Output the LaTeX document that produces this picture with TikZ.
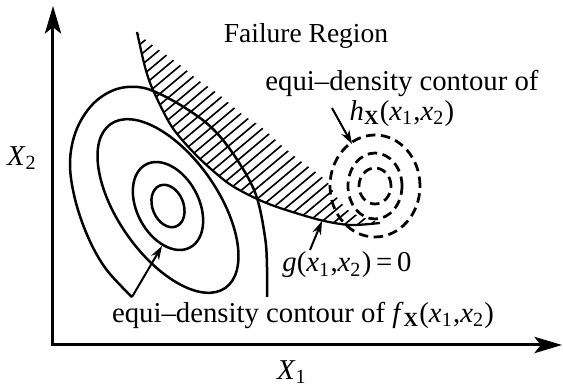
\documentclass[tikz,border=0pt]{standalone}
\usepackage{fontspec}
\setmainfont{Liberation Serif}
\usepackage{tikz}
\usetikzlibrary{arrows.meta,positioning}

\tikzset{
  axis/.style={line width=1.2pt, line join=miter,
    {Stealth[length=11pt,width=6.5pt,inset=2.5pt]}-{Stealth[length=11pt,width=6.5pt,inset=2.5pt]}},
  contour/.style={line width=1pt},
  dashcontour/.style={line width=1.1pt, dash pattern=on 3.8pt off 2.2pt},
  limit/.style={line width=0.9pt},
  hatch/.style={line width=0.65pt},
  pointer/.style={line width=0.8pt, -{Stealth[length=5.5pt,width=3.6pt]}},
}
\newcommand{\xsub}[1]{\textit{x}\textsubscript{#1}}

\begin{document}
\begin{tikzpicture}[x=0.4pt, y=0.4pt, font=\fontsize{11.5}{12}\selectfont]
\useasboundingbox (0,0) rectangle (563,387);

\coordinate (origin) at (53,42);
\coordinate (ytip) at (53,381);
\coordinate (xtip) at (562,42);
\draw[axis] (ytip) -- (origin) -- (xtip);
\node (xtwo) at (22,229) {\textit{X}\textsubscript{2}};
\node (xone) at (292,15) {\textit{X}\textsubscript{1}};

\begin{scope}
  \clip plot[smooth] coordinates {(137,355) (142,350) (162,335) (180,322) (198,307) (217,294)
      (243,272) (260,261) (280,243) (298,228) (317,214) (328,204) (338,188) (352,174) (380,164)}
    -- plot[smooth] coordinates {(380,164) (350,162) (320,167) (280,179) (255,189) (228,204)
      (198,230) (172,260) (153,297) (145,320) (137,355)} -- cycle;
  \foreach \c in {-160,-149,...,245}
    \draw[hatch] (100,{100*0.84+\c}) -- (420,{420*0.84+\c});
\end{scope}
\draw[limit] plot[smooth] coordinates {(137,355) (145,320) (153,297) (172,260) (198,230)
  (228,204) (255,189) (280,179) (320,167) (350,162) (380,164)};

\coordinate (fc) at (168,181);
\foreach \rx/\ry/\a in {15.5/22/22, 31/47/28, 50/100/35}
  \draw[contour, rotate around={\a:(fc)}] (fc) ellipse [x radius=\rx, y radius=\ry];
\draw[contour] plot[smooth, tension=0.6] coordinates {(132,90) (106,118) (88,150) (75,188)
  (70,224) (76,256) (92,282) (114,297) (138,300) (160,293) (190,276) (215,256) (238,226)
  (256,192) (265,150) (267,120) (267,90)};

\coordinate (hc) at (375,201);
\foreach \rx/\ry in {16/18, 27/33, 45/51}
  \draw[dashcontour] (hc) ellipse [x radius=\rx, y radius=\ry];

\node (failure) at (306,351) {\fontsize{11}{13}\selectfont Failure Region};
\node (hlabel) [align=center] at (402,289)
  {equi--density contour of\\\textit{h}\textsubscript{\textbf{X}}(\xsub{1},\xsub{2})};
\node (glabel) at (347,122) {\textit{g}(\xsub{1},\xsub{2})\,=\,0};
\node (flabel) at (303,72)
  {equi--density contour of \textit{f}\textsubscript{\textbf{X}}(\xsub{1},\xsub{2})};

\coordinate (hfrom) at (332,279);
\coordinate (hto) at (352,243);
\coordinate (gfrom) at (310,137);
\coordinate (gto) at (322,166);
\coordinate (ffrom) at (132,90);
\coordinate (fto) at (162,141);
\draw[pointer] (hfrom) -- (hto);
\draw[pointer] (gfrom) -- (gto);
\draw[pointer] (ffrom) -- (fto);
\end{tikzpicture}
\end{document}
